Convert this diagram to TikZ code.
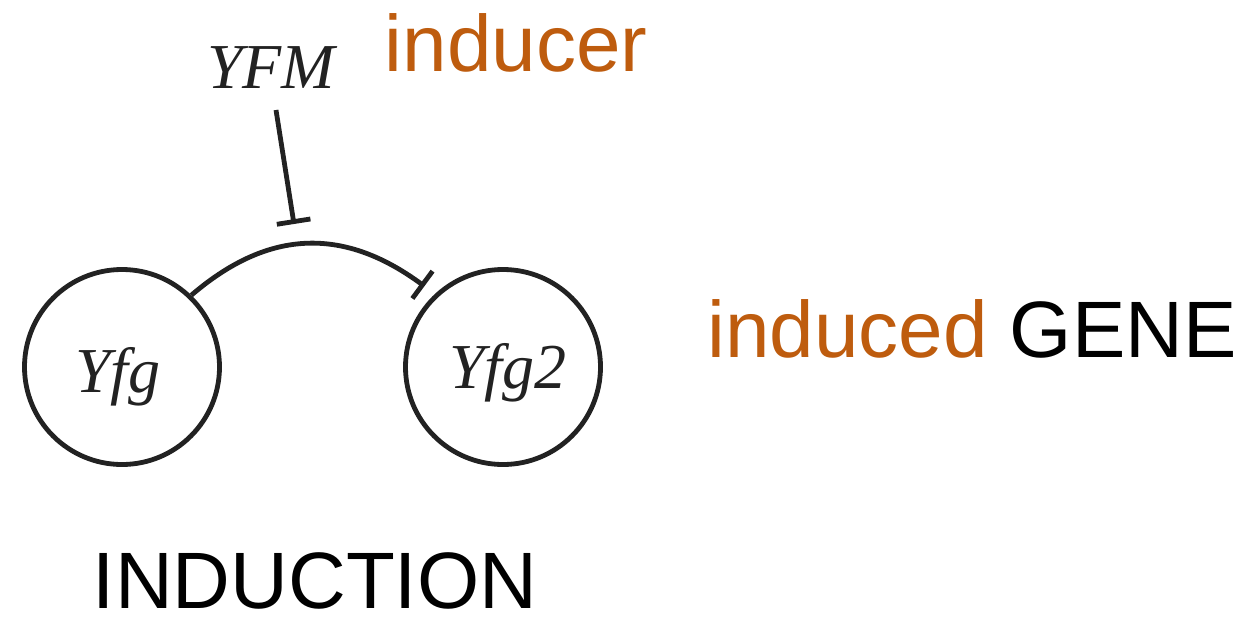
\documentclass[tikz,border=0pt]{standalone}
\usepackage{fontspec}
\setmainfont{Liberation Serif}
\newfontfamily\hv{Liberation Sans}
\usetikzlibrary{arrows.meta}
\definecolor{ochre}{HTML}{BE5C0E}
\definecolor{ink}{HTML}{222222}
\tikzset{
  gene/.style={circle, draw=ink, line width=4.8pt, minimum size=195pt, inner sep=0pt},
  gname/.style={anchor=base, inner sep=0pt, font=\fontsize{64}{64}\selectfont\itshape, text=ink},
  biglabel/.style={anchor=base, inner sep=0pt, font=\hv\fontsize{80}{80}\selectfont},
  inhib/.style={draw=ink, line width=4.8pt, -{Bar[width=34pt, line width=4.8pt]}}
}
\begin{document}
\begin{tikzpicture}[x=1pt, y=-1pt]
\useasboundingbox (0,0) rectangle (1255,616);
\node[gene] (yfg) at (122,367) {};
\node[gene] (yfg2) at (503,367) {};
\node[gname] (yfgtxt) at (118,392) {Yfg};
\node[gname] (yfg2txt) at (508,388) {Yfg2};
\node[gname] (yfm) at (271,88) {YFM};
\node[biglabel, text=ochre] (inducer) at (516,71) {inducer};
\node[biglabel] (induced) at (972,357) {\textcolor{ochre}{induced} GENE};
\node[biglabel] (induction) at (315,608) {INDUCTION};
\draw[inhib, shorten >=13pt] (yfg.46) .. controls (265,232) and (340,224) .. (yfg2.133);
\coordinate (yfmfoot) at (276,110);
\coordinate (hit) at (294,224);
\draw[inhib] (yfmfoot) -- (hit);
\end{tikzpicture}
\end{document}
